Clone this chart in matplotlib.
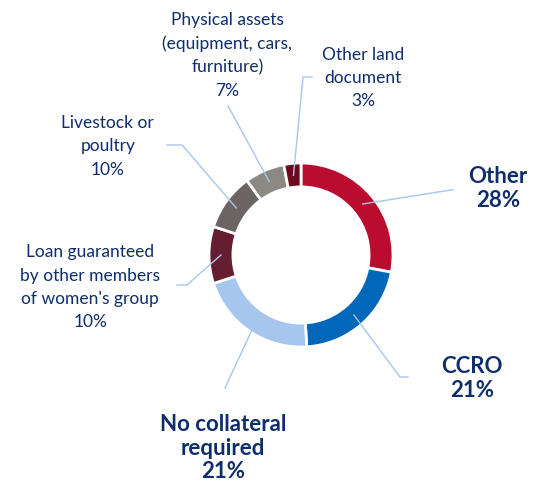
import numpy as np
import matplotlib
matplotlib.use("Agg")
import matplotlib.pyplot as plt

categories = ["Other", "CCRO", "No collateral\nrequired", "Loan guaranteed\nby other members\nof women's group",
              "Livestock or\npoultry", "Physical assets\n(equipment, cars,\nfurniture)", "Other land\ndocument"]
values = [28, 21, 21, 10, 10, 7, 3]
pct_labels = ["28%", "21%", "21%", "10%", "10%", "7%", "3%"]
colors = ["#BA0C2F", "#0067B9", "#A7C6ED", "#651D32", "#6C6463", "#8C8985", "#6A0A1C"]
bold = [True, True, True, False, False, False, False]

# layout (data units, ring radius = 1)
text_pos = [(2.14, 0.72), (1.86, -1.34), (-0.85, -2.10), (-2.29, -0.35),
            (-2.10, 1.18), (-0.80, 2.17), (0.674, 1.925)]
line_elbow = [(1.65, 0.71), (1.076, -1.326), (-0.826, -1.446), (-1.239, -0.326),
              (-1.293, 1.196), (-0.793, 1.62), (0.022, 1.935)]
line_end = [None, (1.163, -1.326), None, (-1.348, -0.326),
            (-1.457, 1.196), None, (0.12, 1.935)]

W, H = 533, 487
cx, cy, R = 301, 255, 92
fig = plt.figure(figsize=(W / 100, H / 100), dpi=100)
ax = fig.add_axes([0, 0, 1, 1])

wedges, _ = ax.pie(values, colors=colors, startangle=90, counterclock=False, radius=1,
                   wedgeprops=dict(width=0.26, edgecolor="white", linewidth=2))
ax.set_xlim(-cx / R, (W - cx) / R)
ax.set_ylim(-(H - cy) / R, cy / R)
ax.set_aspect("equal")
ax.axis("off")

navy = "#0F2D6B"
line_c = "#A7C6ED"
for i, w in enumerate(wedges):
    ang = np.deg2rad((w.theta1 + w.theta2) / 2)
    sx, sy = 0.87 * np.cos(ang), 0.87 * np.sin(ang)
    pts = [(sx, sy), line_elbow[i]]
    if line_end[i] is not None:
        pts.append(line_end[i])
    xs, ys = zip(*pts)
    ax.plot(xs, ys, color=line_c, lw=1.0, zorder=3)
    txt = categories[i] + "\n" + pct_labels[i]
    if bold[i]:
        ax.text(*text_pos[i], txt, ha="center", va="center", fontsize=16, fontweight="bold",
                color=navy, family="Lato", linespacing=1.15)
    else:
        ax.text(*text_pos[i], txt, ha="center", va="center", fontsize=12.5,
                color=navy, family="Lato", linespacing=1.55)

fig.savefig("out.png", dpi=100)
